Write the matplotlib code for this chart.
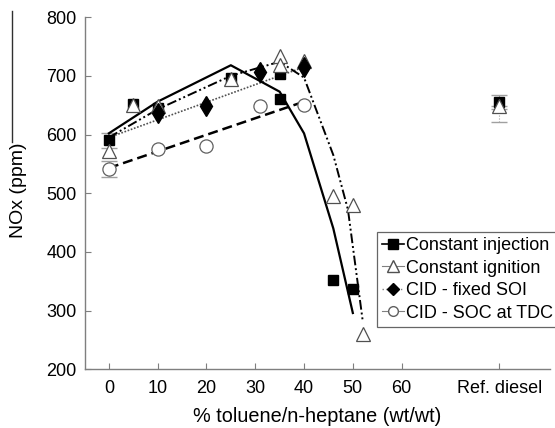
import matplotlib
matplotlib.use('Agg')
import matplotlib.pyplot as plt
from matplotlib.lines import Line2D

plt.rcParams['font.family'] = ['Liberation Sans', 'DejaVu Sans']

# Measured points for each operating strategy (x = % toluene, 80 = reference diesel).
inj_x = [0, 5, 10, 25, 35, 35, 46, 50, 80]
inj_y = [590, 652, 645, 697, 703, 660, 352, 337, 655]
ign_x = [0, 5, 10, 25, 35, 35, 40, 46, 50, 52, 80]
ign_y = [572, 650, 648, 695, 733, 718, 725, 495, 480, 260, 648]
fix_x = [10, 20, 31, 40]
fix_y = [636, 648, 706, 715]
soc_x = [0, 10, 20, 31, 40]
soc_y = [541, 576, 581, 649, 650]

# Trend lines through each series.
inj_fit_x = [0, 10, 25, 35, 40, 46, 50]
inj_fit_y = [602, 656, 718, 673, 602, 440, 296]
ign_fit_x = [0, 10, 25, 35, 40, 46, 49, 52]
ign_fit_y = [595, 643, 700, 724, 697, 565, 472, 284]
fix_fit_x = [0, 40]
fix_fit_y = [595, 715]
soc_fit_x = [0, 40]
soc_fit_y = [543, 656]

# Repeatability bars (x, y, lower, upper, style).
err_x = [0, 0, 80, 80]
err_y = [590, 541, 655, 648]
err_lo = [13, 14, 12, 26]
err_hi = [13, 14, 12, 0]
err_ls = ['-', ':', '-', ':']

tick_pos = [0, 10, 20, 30, 40, 50, 60, 80]
tick_lab = ['0', '10', '20', '30', '40', '50', '60', 'Ref. diesel']

fig = plt.figure(figsize=(5.55, 4.28), dpi=100)
ax = fig.add_axes([0.153, 0.137, 0.838, 0.823])

grey = '#7f7f7f'

# error bars go underneath everything
for x, y, lo, hi, ls in zip(err_x, err_y, err_lo, err_hi, err_ls):
    eb = ax.errorbar([x], [y], yerr=[[lo], [hi]], fmt='none', ecolor='#a0a0a0',
                     elinewidth=0.8, capsize=6, capthick=1.0, zorder=1)
    for seg in eb[2]:
        seg.set_linestyle(ls)

ax.plot(soc_fit_x, soc_fit_y, color='black', ls=(0, (4, 2)), lw=1.8, zorder=2)
ax.plot(fix_fit_x, fix_fit_y, color='#505050', ls=(0, (1, 1)), lw=1.2, zorder=2)
ax.plot(ign_fit_x, ign_fit_y, color='black', ls=(0, (5, 1.5, 1, 1.5, 1, 1.5)), lw=1.4, zorder=2)
ax.plot(inj_fit_x, inj_fit_y, color='black', ls='-', lw=1.6, zorder=2)

ax.plot(soc_x, soc_y, 'o', ms=9.5, mfc='white', mec='#606060', mew=0.9, ls='none', zorder=3)
ax.plot(inj_x, inj_y, 's', ms=7.5, mfc='black', mec='black', ls='none', zorder=3)
ax.plot(ign_x, ign_y, '^', ms=10, mfc='white', mec='#505050', mew=0.9, ls='none', zorder=4)
ax.plot(fix_x, fix_y, 'd', ms=10.5, mfc='black', mec='black', ls='none', zorder=5)

ax.set_xlim(-4.9, 90.4)
ax.set_ylim(200, 800)
ax.set_xticks(tick_pos)
ax.set_xticklabels(tick_lab)
ax.set_yticks(range(200, 801, 100))

for side in ['top', 'right']:
    ax.spines[side].set_visible(False)
for side in ['left', 'bottom']:
    ax.spines[side].set_color(grey)
    ax.spines[side].set_linewidth(1.0)
ax.tick_params(axis='both', direction='in', length=4, color=grey, labelsize=13, pad=8)
ax.tick_params(axis='y', pad=6)

ax.set_xlabel('% toluene/n-heptane (wt/wt)', fontsize=14.3, labelpad=7)
fig.text(0.033, 0.556, 'NOx (ppm)', rotation=90, fontsize=14, ha='center', va='center')
fig.add_artist(Line2D([0.022, 0.022], [0.975, 0.668], transform=fig.transFigure,
                      color='#303030', lw=1.0))

handles = [
    Line2D([], [], color='black', ls='-', lw=1.2, marker='s', ms=7, mfc='black', mec='black'),
    Line2D([], [], color='#808080', ls='-', lw=0.8, marker='^', ms=9, mfc='white', mec='#505050'),
    Line2D([], [], color='#808080', ls=':', lw=1.0, marker='D', ms=6, mfc='black', mec='black'),
    Line2D([], [], color='#808080', ls='-', lw=0.8, marker='o', ms=7, mfc='white', mec='#606060'),
]
labels = ['Constant injection', 'Constant ignition', 'CID - fixed SOI', 'CID - SOC at TDC']
leg = ax.legend(handles, labels, loc='upper left', bbox_to_anchor=(0.679, 0.458),
                bbox_transform=fig.transFigure, fontsize=13, frameon=True, fancybox=False,
                edgecolor='#404040', handlelength=1.2, handletextpad=0.1, labelspacing=0.3,
                borderpad=0.3, borderaxespad=0)
leg.get_frame().set_linewidth(0.9)

fig.savefig('out.png', dpi=100, facecolor='white')
